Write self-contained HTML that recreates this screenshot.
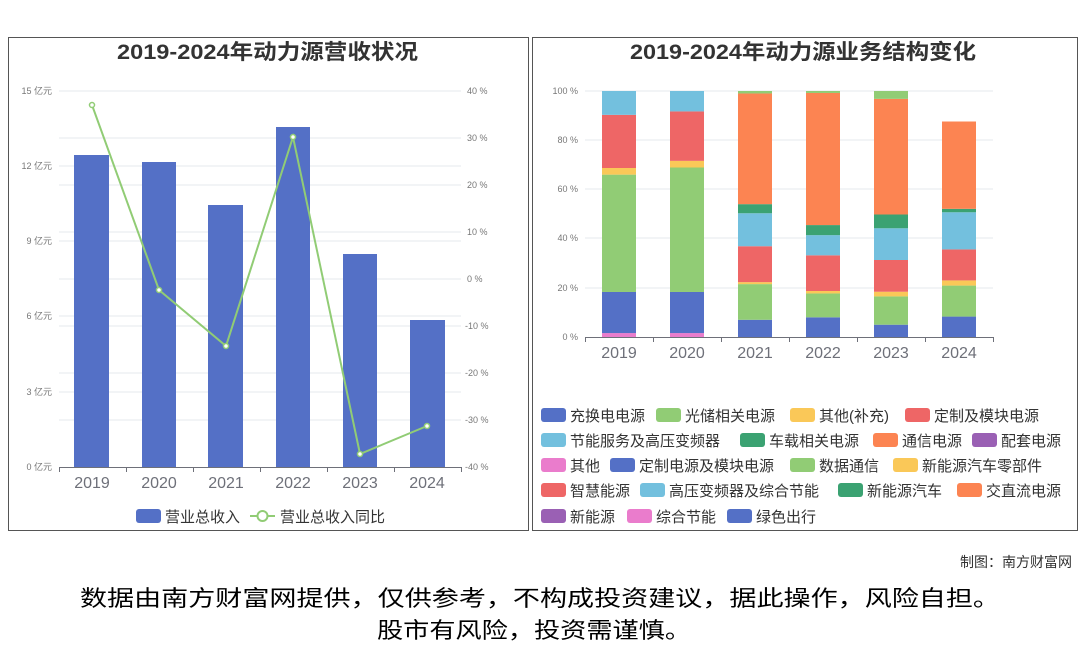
<!DOCTYPE html>
<html><head><meta charset="utf-8"><style>
html,body{margin:0;padding:0;background:#fff;}
svg{display:block;font-family:"Liberation Sans","Noto Sans CJK SC",sans-serif;}
</style></head><body>
<svg width="1080" height="646" viewBox="0 0 1080 646" xmlns="http://www.w3.org/2000/svg">
<rect width="1080" height="646" fill="#fff"/>
<rect x="8.5" y="37.5" width="520" height="493" fill="none" stroke="#555" stroke-width="1"/>
<rect x="532.5" y="37.5" width="545" height="493" fill="none" stroke="#555" stroke-width="1"/>
<text x="117" y="59" font-size="21" font-weight="bold" fill="#333" textLength="301" lengthAdjust="spacingAndGlyphs">2019-2024年动力源营收状况</text>
<text x="630" y="59" font-size="21" font-weight="bold" fill="#333" textLength="346" lengthAdjust="spacingAndGlyphs">2019-2024年动力源业务结构变化</text>

<g stroke="#e6e8ee" stroke-width="1">
<line x1="59" x2="461" y1="91" y2="91"/><line x1="59" x2="461" y1="138" y2="138"/><line x1="59" x2="461" y1="166" y2="166"/><line x1="59" x2="461" y1="185" y2="185"/><line x1="59" x2="461" y1="232" y2="232"/><line x1="59" x2="461" y1="241" y2="241"/><line x1="59" x2="461" y1="279" y2="279"/><line x1="59" x2="461" y1="316" y2="316"/><line x1="59" x2="461" y1="326" y2="326"/><line x1="59" x2="461" y1="373" y2="373"/><line x1="59" x2="461" y1="392" y2="392"/><line x1="59" x2="461" y1="420" y2="420"/>
</g>
<g font-size="9" fill="#777" text-anchor="end">
<text x="52" y="94">15 亿元</text><text x="52" y="169">12 亿元</text><text x="52" y="244">9 亿元</text><text x="52" y="319">6 亿元</text><text x="52" y="395">3 亿元</text><text x="52" y="470">0 亿元</text>
</g>
<g font-size="9" fill="#777">
<text x="467" y="94">40 %</text><text x="467" y="141">30 %</text><text x="467" y="188">20 %</text><text x="467" y="235">10 %</text><text x="467" y="282">0 %</text><text x="465" y="329">-10 %</text><text x="465" y="376">-20 %</text><text x="465" y="423">-30 %</text><text x="465" y="470">-40 %</text>
</g>
<g fill="#5470c6">
<rect x="74" y="155" width="35" height="312"/><rect x="142" y="162" width="34" height="305"/><rect x="208" y="205" width="35" height="262"/><rect x="276" y="127" width="34" height="340"/><rect x="343" y="254" width="34" height="213"/><rect x="410" y="320" width="35" height="147"/>
</g>
<line x1="59" x2="461" y1="467.5" y2="467.5" stroke="#6e7079"/>
<g stroke="#6e7079"><line x1="59.5" x2="59.5" y1="467" y2="472"/><line x1="126.5" x2="126.5" y1="467" y2="472"/><line x1="193.5" x2="193.5" y1="467" y2="472"/><line x1="260.5" x2="260.5" y1="467" y2="472"/><line x1="327.5" x2="327.5" y1="467" y2="472"/><line x1="394.5" x2="394.5" y1="467" y2="472"/><line x1="461.5" x2="461.5" y1="467" y2="472"/></g>
<polyline points="92,105 159,290 226,346 293,137 360,454 427,426" fill="none" stroke="#91cc75" stroke-width="2"/>
<g fill="#fff" stroke="#91cc75" stroke-width="1.5">
<circle cx="92" cy="105" r="2.5"/><circle cx="159" cy="290" r="2.5"/><circle cx="226" cy="346" r="2.5"/><circle cx="293" cy="137" r="2.5"/><circle cx="360" cy="454" r="2.5"/><circle cx="427" cy="426" r="2.5"/>
</g>
<g font-size="16" fill="#6e7079" text-anchor="middle">
<text x="92" y="488">2019</text><text x="159" y="488">2020</text><text x="226" y="488">2021</text><text x="293" y="488">2022</text><text x="360" y="488">2023</text><text x="427" y="488">2024</text>
</g>
<rect x="136" y="509" width="25" height="14" rx="3" fill="#5470c6"/>
<text x="165" y="522" font-size="15" fill="#333">营业总收入</text>
<line x1="250" x2="275" y1="516" y2="516" stroke="#91cc75" stroke-width="2"/>
<circle cx="262.5" cy="516" r="5" fill="#fff" stroke="#91cc75" stroke-width="2"/>
<text x="280" y="522" font-size="15" fill="#333">营业总收入同比</text>

<g stroke="#e6e8ee">
<line x1="585" x2="993" y1="91" y2="91"/><line x1="585" x2="993" y1="140" y2="140"/><line x1="585" x2="993" y1="189" y2="189"/><line x1="585" x2="993" y1="238" y2="238"/><line x1="585" x2="993" y1="288" y2="288"/>
</g>
<g font-size="9" fill="#777" text-anchor="end">
<text x="578" y="94">100 %</text><text x="578" y="143">80 %</text><text x="578" y="192">60 %</text><text x="578" y="241">40 %</text><text x="578" y="291">20 %</text><text x="578" y="340">0 %</text>
</g>
<g id="bars"></g>
<line x1="585" x2="993" y1="337.5" y2="337.5" stroke="#6e7079"/>
<g stroke="#6e7079"><line x1="585.5" x2="585.5" y1="337" y2="342"/><line x1="653.5" x2="653.5" y1="337" y2="342"/><line x1="721.5" x2="721.5" y1="337" y2="342"/><line x1="789.5" x2="789.5" y1="337" y2="342"/><line x1="857.5" x2="857.5" y1="337" y2="342"/><line x1="925.5" x2="925.5" y1="337" y2="342"/><line x1="993.5" x2="993.5" y1="337" y2="342"/></g>
<g font-size="16" fill="#6e7079" text-anchor="middle">
<text x="619" y="358">2019</text><text x="687" y="358">2020</text><text x="755" y="358">2021</text><text x="823" y="358">2022</text><text x="891" y="358">2023</text><text x="959" y="358">2024</text>
</g>
<g font-size="15" fill="#333" id="leg"></g>

<text x="1072" y="567" text-anchor="end" font-size="14" fill="#333">制图：南方财富网</text>
<text x="80" y="606" font-size="22" fill="#000" textLength="920" lengthAdjust="spacingAndGlyphs">数据由南方财富网提供，仅供参考，不构成投资建议，据此操作，风险自担。</text>
<text x="377" y="638" font-size="22" fill="#000" textLength="314" lengthAdjust="spacingAndGlyphs">股市有风险，投资需谨慎。</text>
</svg>
<script>
var C={b:"#5470c6",g:"#91cc75",y:"#fac858",r:"#ee6666",l:"#73c0de",d:"#3ba272",o:"#fc8452",p:"#9a60b4",k:"#ea7ccc"};
var data=[
[["k",1.6],["b",18.3],["g",66],["y",68.7],["r",90.3],["l",100]],
[["k",1.6],["b",18.3],["g",68.9],["y",71.6],["r",91.7],["l",100]],
[["b",7],["g",21.5],["y",22.3],["r",36.9],["l",50.3],["d",54],["o",99],["g",100]],
[["b",8],["g",17.7],["y",18.7],["r",33.2],["l",41.4],["d",45.5],["o",99.2],["g",100]],
[["b",5],["g",16.5],["y",18.4],["r",31.3],["l",44.2],["d",49.8],["o",96.8],["g",100]],
[["b",8.3],["g",20.9],["y",23],["r",35.6],["l",50.7],["d",52.1],["o",87.6]]];
var ns="http://www.w3.org/2000/svg",g=document.getElementById("bars");
data.forEach(function(s,i){var prev=0,x=602+i*68;s.forEach(function(e){var y0=337-prev*2.46,y1=337-e[1]*2.46;var r=document.createElementNS(ns,"rect");r.setAttribute("x",x);r.setAttribute("width",34);r.setAttribute("y",y1);r.setAttribute("height",y0-y1);r.setAttribute("fill",C[e[0]]);g.appendChild(r);prev=e[1];});});
var L=[
[415,[[541,"b","充换电电源"],[656,"g","光储相关电源"],[790,"y","其他(补充)"],[905,"r","定制及模块电源"]]],
[440,[[541,"l","节能服务及高压变频器"],[740,"d","车载相关电源"],[873,"o","通信电源"],[972,"p","配套电源"]]],
[465,[[541,"k","其他"],[610,"b","定制电源及模块电源"],[790,"g","数据通信"],[893,"y","新能源汽车零部件"]]],
[490,[[541,"r","智慧能源"],[640,"l","高压变频器及综合节能"],[838,"d","新能源汽车"],[957,"o","交直流电源"]]],
[516,[[541,"p","新能源"],[627,"k","综合节能"],[727,"b","绿色出行"]]]];
var lg=document.getElementById("leg");
L.forEach(function(row){row[1].forEach(function(it){var r=document.createElementNS(ns,"rect");r.setAttribute("x",it[0]);r.setAttribute("y",row[0]-7);r.setAttribute("width",25);r.setAttribute("height",14);r.setAttribute("rx",3);r.setAttribute("fill",C[it[1]]);lg.appendChild(r);var t=document.createElementNS(ns,"text");t.setAttribute("x",it[0]+29);t.setAttribute("y",row[0]+6);t.textContent=it[2];lg.appendChild(t);});});
</script>
</body></html>
